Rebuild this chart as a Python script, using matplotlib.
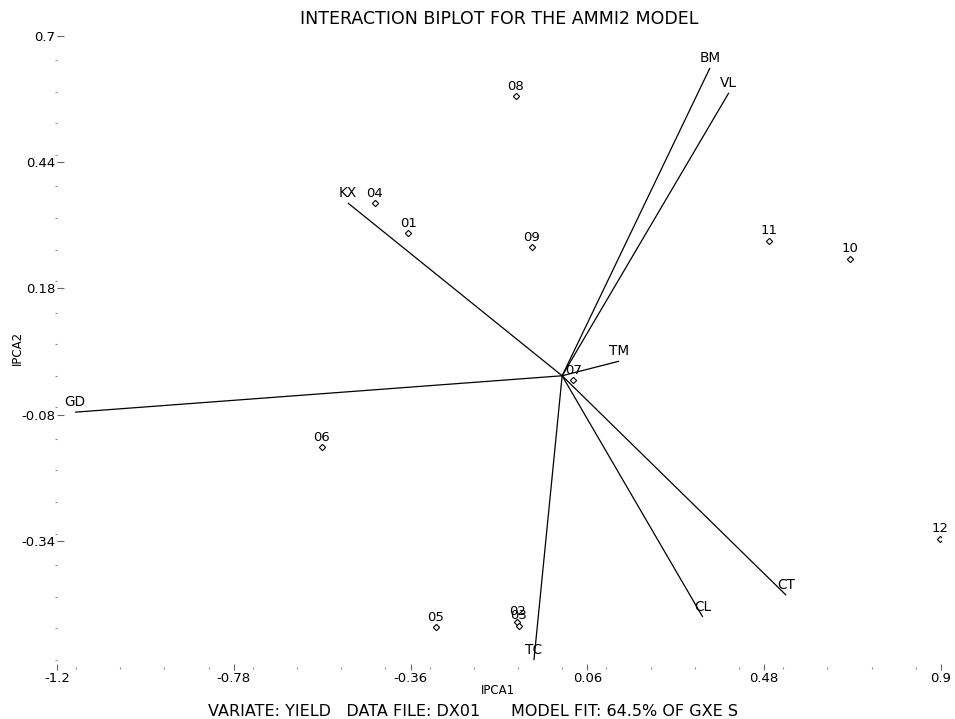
import matplotlib
matplotlib.use("Agg")
import matplotlib.pyplot as plt
from matplotlib.ticker import MultipleLocator, FixedLocator

plt.rcParams["font.family"] = ["DejaVu Sans"]
plt.rcParams["axes.unicode_minus"] = False

# Genotype scores (IPCA1, IPCA2)
genotypes = ["01", "02", "03", "04", "05", "06", "07", "08", "09", "10", "11", "12"]
geno_ipca1 = [-0.366, -0.107, -0.103, -0.445, -0.300, -0.571, 0.026, -0.110, -0.072, 0.684, 0.491, 0.897]
geno_ipca2 = [0.294, -0.507, -0.515, 0.356, -0.518, -0.147, -0.009, 0.576, 0.265, 0.241, 0.278, -0.336]

# Environment scores (vector end points)
environments = ["BM", "VL", "KX", "GD", "TM", "TC", "CL", "CT"]
env_ipca1 = [0.351, 0.396, -0.509, -1.157, 0.135, -0.067, 0.334, 0.532]
env_ipca2 = [0.634, 0.583, 0.356, -0.075, 0.030, -0.586, -0.497, -0.452]

x_ticks = [-1.2, -0.78, -0.36, 0.06, 0.48, 0.9]
y_ticks = [0.7, 0.44, 0.18, -0.08, -0.34]

fig = plt.figure(figsize=(9.55, 7.19), dpi=100)
ax = fig.add_axes([57 / 955, 52 / 719, (941 - 57) / 955, (667 - 36) / 719])
ax.set_xlim(-1.2, 0.9)
ax.set_ylim(-0.6, 0.7)

for s in ax.spines.values():
    s.set_visible(False)

# Environment vectors from the origin
for name, ex, ey in zip(environments, env_ipca1, env_ipca2):
    ax.plot([0, ex], [0, ey], color="black", lw=0.9, solid_capstyle="butt")
    ax.annotate(name, (ex, ey), xytext=(0, 2), textcoords="offset points",
                ha="center", va="bottom", fontsize=9.8)

# Genotype markers
ax.plot(geno_ipca1, geno_ipca2, linestyle="none", marker="D", markersize=3.2,
        mfc="white", mec="black", mew=0.8)
for name, gx, gy in zip(genotypes, geno_ipca1, geno_ipca2):
    ax.annotate(name, (gx, gy), xytext=(0, 2.5), textcoords="offset points",
                ha="center", va="bottom", fontsize=9.5)

# Ticks
ax.xaxis.set_major_locator(FixedLocator(x_ticks))
ax.xaxis.set_minor_locator(MultipleLocator(0.105))
ax.set_xticklabels([f"{v:g}" for v in x_ticks])
ax.yaxis.set_major_locator(FixedLocator(y_ticks))
ax.yaxis.set_minor_locator(MultipleLocator(0.065))
ax.set_yticklabels([f"{v:g}" for v in y_ticks])

ax.tick_params(axis="x", which="major", direction="inout", length=5, width=0.8,
               colors="#666666", labelcolor="black", labelsize=9.5, pad=1)
ax.tick_params(axis="x", which="minor", direction="out", length=1.5, width=0.8,
               colors="#888888")
ax.tick_params(axis="y", which="major", direction="in", length=5, width=0.8,
               colors="#666666", labelcolor="black", labelsize=9.5, pad=1)
ax.tick_params(axis="y", which="minor", direction="out", length=1.5, width=0.8,
               colors="#888888")

fig.text(499 / 955, 1 - 19 / 719, "INTERACTION BIPLOT FOR THE AMMI2 MODEL",
         ha="center", va="center", fontsize=12.5)
fig.text(17 / 955, 1 - 348 / 719, "IPCA2", rotation=90, ha="center", va="center",
         fontsize=8.5)
fig.text(498 / 955, 1 - 690 / 719, "IPCA1", ha="center", va="center", fontsize=8.5)
fig.text(473 / 955, 1 - 711 / 719,
         "VARIATE: YIELD   DATA FILE: DX01      MODEL FIT: 64.5% OF GXE S",
         ha="center", va="center", fontsize=11.5)

fig.savefig("out.png", dpi=100)
